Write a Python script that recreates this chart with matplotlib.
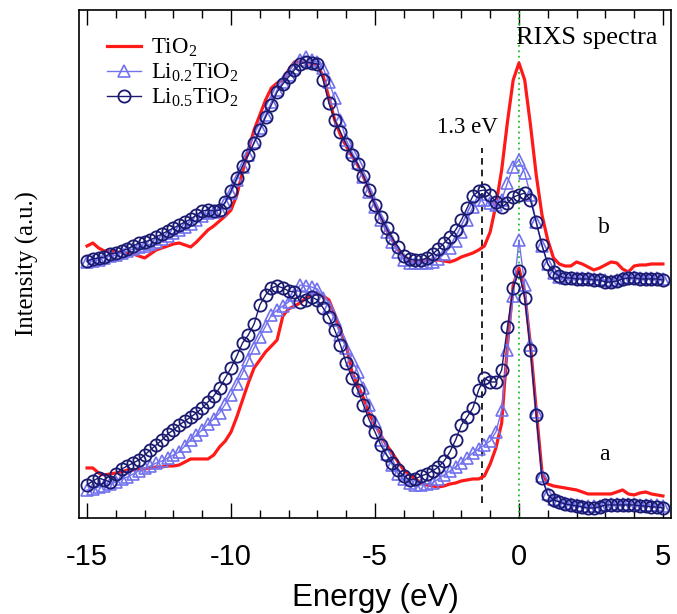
import numpy as np
import matplotlib
matplotlib.use("Agg")
import matplotlib.pyplot as plt
from matplotlib.ticker import MultipleLocator

plt.rcParams['axes.unicode_minus'] = False
plt.rcParams['mathtext.fontset'] = 'custom'
plt.rcParams['mathtext.rm'] = 'Liberation Serif'
plt.rcParams['mathtext.it'] = 'Liberation Serif:italic'

# Energy grid (eV)
energy = np.round(np.arange(-15.0, 5.0001, 0.2), 2)

# ---- spectrum b (upper) ----
tio2_b = [272, 275, 270, 267, 267, 266, 266, 265, 264, 262,
          260, 264, 268, 270, 272, 274, 275, 273, 271, 276,
          282, 288, 292, 297, 302, 308, 323, 346, 368, 388,
          403, 418, 430, 435, 438, 448, 456, 456, 455, 455,
          452, 442, 420, 398, 383, 372, 362, 353, 341, 327,
          313, 300, 288, 278, 269, 262, 258, 256, 257, 258,
          258, 258, 257, 256, 258, 261, 263, 265, 268, 272,
          286, 313, 348, 396, 438, 455, 438, 393, 343, 303,
          278, 260, 254, 252, 252, 256, 254, 251, 248, 250,
          253, 256, 255, 249, 246, 252, 253, 253, 254, 254,
          254]
li02_b = [256, 257, 258, 260, 262, 263, 265, 267, 269, 271,
          272, 274, 276, 279, 282, 285, 288, 291, 294, 298,
          302, 305, 306, 308, 315, 325, 338, 351, 363, 376,
          390, 403, 416, 428, 436, 443, 450, 458, 461, 458,
          456, 450, 436, 420, 398, 378, 366, 355, 341, 326,
          311, 298, 286, 276, 266, 258, 255, 255, 255, 255,
          256, 259, 264, 270, 277, 286, 298, 311, 318, 318,
          315, 313, 318, 335, 351, 358, 345, 323, 296, 272,
          254, 245, 241, 240, 240, 240, 240, 240, 239, 239,
          238, 237, 238, 240, 241, 241, 240, 240, 240, 240,
          239]
li05_b = [257, 259, 260, 261, 264, 265, 267, 269, 272, 275,
          276, 278, 281, 284, 287, 290, 293, 296, 299, 303,
          307, 308, 307, 308, 316, 327, 340, 352, 363, 375,
          388, 401, 413, 426, 434, 441, 448, 454, 456, 455,
          454, 438, 415, 398, 386, 374, 363, 354, 342, 328,
          313, 301, 290, 280, 271, 262, 259, 258, 258, 260,
          264, 269, 275, 281, 288, 298, 310, 322, 327, 328,
          323, 316, 311, 315, 321, 323, 325, 318, 296, 273,
          254, 246, 242, 240, 240, 239, 239, 239, 238, 238,
          236, 236, 237, 239, 240, 240, 239, 239, 239, 239,
          238]

# ---- spectrum a (lower) ----
tio2_a = [50, 50, 45, 43, 44, 45, 46, 48, 48, 49,
          49, 50, 51, 51, 52, 52, 53, 56, 59, 59,
          59, 59, 63, 71, 77, 86, 101, 118, 135, 150,
          158, 166, 172, 178, 202, 209, 212, 215, 220, 224,
          224, 222, 218, 204, 188, 173, 146, 133, 120, 104,
          93, 83, 73, 65, 56, 48, 43, 39, 35, 33,
          32, 31, 32, 34, 35, 37, 38, 39, 39, 42,
          54, 70, 95, 173, 233, 250, 225, 173, 108, 46,
          34, 32, 31, 30, 29, 28, 26, 24, 24, 24,
          24, 24, 26, 28, 24, 23, 25, 26, 24, 23,
          22]
li02_a = [28, 29, 31, 32, 34, 36, 39, 41, 44, 47,
          50, 52, 55, 57, 60, 63, 66, 72, 78, 83,
          88, 94, 99, 105, 114, 123, 134, 145, 158, 170,
          181, 192, 203, 208, 212, 216, 223, 233, 232, 231,
          229, 220, 211, 198, 183, 170, 158, 146, 130, 113,
          96, 78, 64, 53, 44, 39, 35, 33, 33, 34,
          35, 39, 43, 47, 51, 55, 60, 65, 69, 73,
          77, 86, 108, 168, 222, 278, 233, 173, 106, 42,
          24, 19, 17, 15, 14, 13, 12, 12, 12, 12,
          13, 14, 14, 14, 14, 14, 13, 13, 13, 13,
          12]
li05_a = [33, 37, 40, 38, 36, 44, 49, 52, 55, 58,
          63, 68, 73, 78, 84, 88, 93, 97, 101, 105,
          110, 116, 122, 130, 140, 150, 162, 175, 183, 194,
          213, 223, 230, 232, 230, 227, 226, 216, 218, 221,
          218, 210, 201, 188, 173, 155, 140, 128, 113, 98,
          86, 73, 63, 55, 48, 42, 38, 39, 42, 44,
          47, 51, 57, 66, 78, 93, 101, 110, 128, 140,
          136, 136, 148, 191, 230, 247, 220, 168, 103, 40,
          23, 18, 16, 14, 13, 12, 11, 10, 10, 11,
          13, 13, 13, 13, 13, 13, 12, 12, 11, 11,
          10]

labels = ['TiO$_2$', 'Li$_{0.2}$TiO$_2$', 'Li$_{0.5}$TiO$_2$']
xticks = [-15, -10, -5, 0, 5]

RED = '#ff1a1a'
LIGHT = '#7272ee'
NAVY = '#1a1a70'

fig = plt.figure(figsize=(6.77, 6.14), dpi=100)
ax = fig.add_axes([0.1167, 0.1564, 0.8744, 0.8273])

serif = 'Liberation Serif'
sans = 'Liberation Sans'

for tio2, li02, li05, lab in [(tio2_b, li02_b, li05_b, True), (tio2_a, li02_a, li05_a, False)]:
    ax.plot(energy, tio2, color=RED, lw=2.3, zorder=3,
            label=labels[0] if lab else None)
    ax.plot(energy, li02, color=LIGHT, lw=1.0, marker='^', ms=9,
            mfc='none', mec=LIGHT, mew=1.2, zorder=4,
            label=labels[1] if lab else None)
    ax.plot(energy, li05, color=NAVY, lw=1.0, marker='o', ms=8.8,
            mfc='none', mec=NAVY, mew=1.3, zorder=5,
            label=labels[2] if lab else None)

ax.axvline(0.0, color='#22c022', ls=(0, (1, 2)), lw=1.3, zorder=2)
ax.plot([-1.3, -1.3], [15, 370], color='black', ls=(0, (4, 3)), lw=1.2, zorder=2)

ax.text(-0.1, 480, 'RIXS spectra', family=serif, fontsize=19, ha='left', va='center')
ax.text(-1.8, 390, '1.3 eV', family=serif, fontsize=16.5, ha='center', va='center')
ax.text(2.95, 290, 'b', family=serif, fontsize=17, ha='center', va='center')
ax.text(2.95, 63, 'a', family=serif, fontsize=17, ha='center', va='center')

ax.set_xlim(-15.28, 5.28)
ax.set_ylim(0, 508)
ax.set_xticks(xticks)
ax.set_xticklabels([str(t) for t in xticks], family=sans, fontsize=21)
ax.xaxis.set_minor_locator(MultipleLocator(1))
ax.set_yticks([])
ax.tick_params(axis='x', which='major', direction='in', length=11, width=1.0,
               top=True, bottom=True, pad=18)
ax.tick_params(axis='x', which='minor', direction='in', length=5.5, width=1.0,
               top=True, bottom=True)
for s in ax.spines.values():
    s.set_linewidth(1.2)

ax.set_xlabel('Energy (eV)', family=sans, fontsize=22.5, labelpad=9)
ax.set_ylabel('Intensity (a.u.)', family=serif, fontsize=17.8)
ax.yaxis.set_label_coords(-0.068, 0.5)

leg = ax.legend(loc='upper left', bbox_to_anchor=(0.048, 0.947), frameon=False,
                prop={'family': serif, 'size': 16.5}, handlelength=1.45,
                handletextpad=0.45, labelspacing=0.12, borderpad=0,
                borderaxespad=0)

fig.savefig('out.png', dpi=100)
